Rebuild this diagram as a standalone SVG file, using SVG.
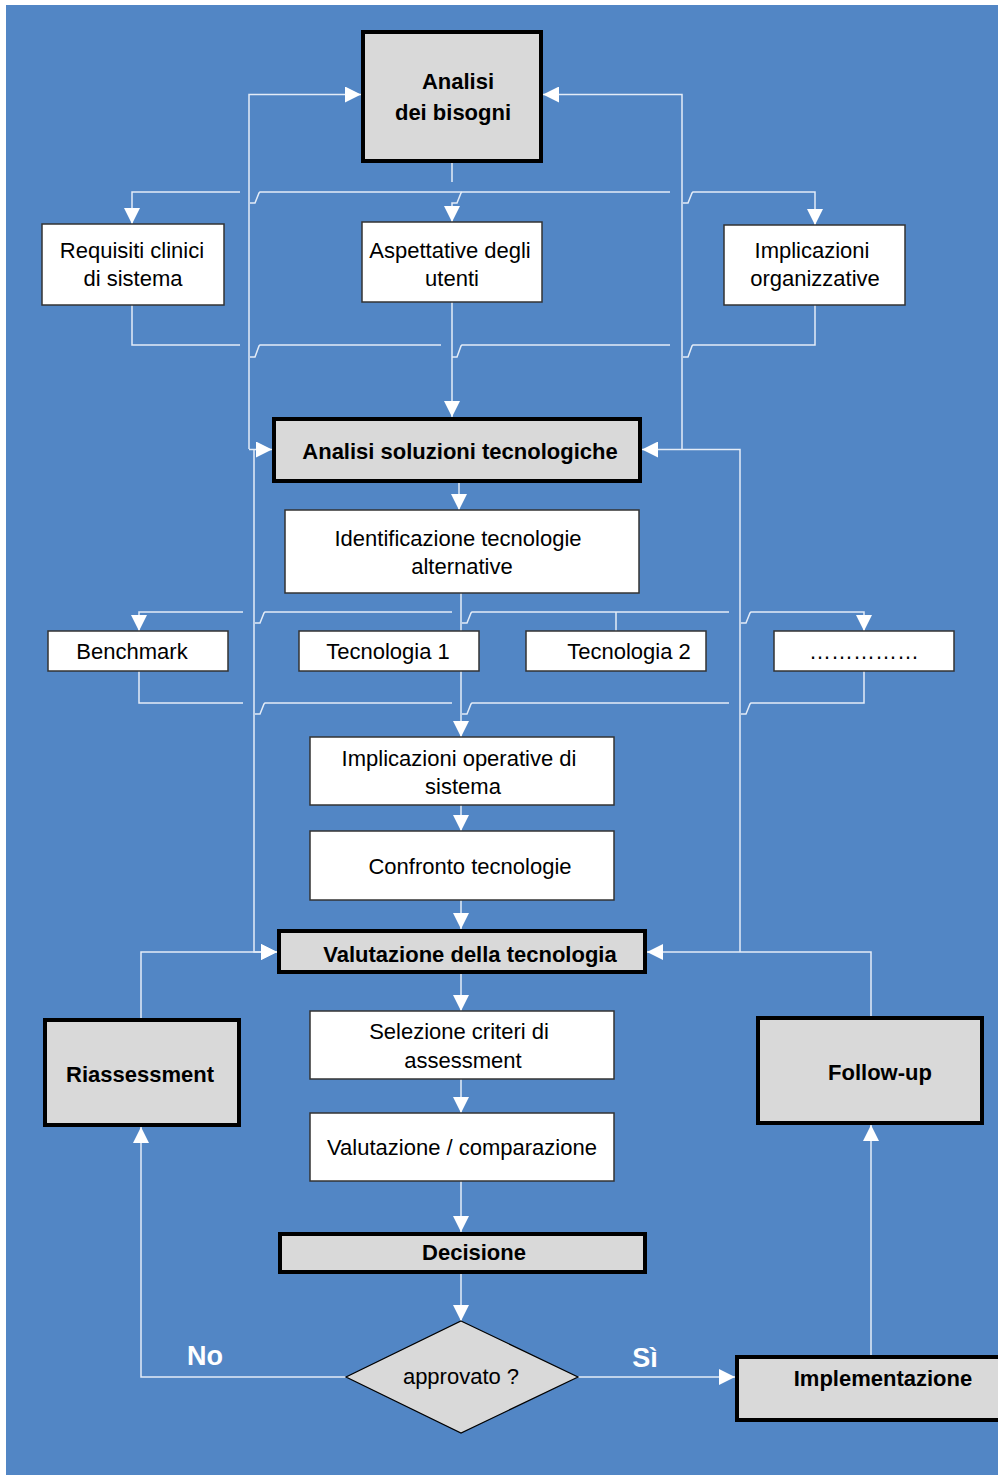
<svg xmlns="http://www.w3.org/2000/svg" width="998" height="1475" viewBox="0 0 998 1475">
<defs>
<marker id="ah" markerUnits="userSpaceOnUse" markerWidth="16" markerHeight="16" refX="16" refY="8" orient="auto">
<path d="M0,0 L16,8 L0,16 Z" fill="#FFFFFF"/>
</marker>
<style>
.bg{fill:#5286C5}
.box{fill:#FFFFFF;stroke:#333333;stroke-width:1.5}
.bbox{fill:#D9D9D9;stroke:#000000;stroke-width:4}
.t{font-family:"Liberation Sans",Arial,sans-serif;font-size:22px;fill:#000;text-anchor:middle}
.tb{font-family:"Liberation Sans",Arial,sans-serif;font-size:22px;font-weight:bold;fill:#000;text-anchor:middle}
.lbl{font-family:"Liberation Sans",Arial,sans-serif;font-size:27px;font-weight:bold;fill:#FFFFFF;text-anchor:middle}
.c{fill:none;stroke:#E4ECF7;stroke-width:1.5}
.a{marker-end:url(#ah)}
</style>
</defs>
<rect x="0" y="0" width="998" height="1475" fill="#FFFFFF"/>
<rect class="bg" x="6" y="5" width="992" height="1470"/>

<g id="connectors">
<!-- top loops -->
<path class="c a" d="M249,449 V94.5 H361"/>
<path class="c a" d="M682,449 V94.5 H543"/>
<path class="c a" d="M249,449.5 H272"/>
<path class="c a" d="M740,952 V449.5 H642"/>
<!-- row y=192 -->
<path class="c" d="M452,163 V182"/>
<path class="c a" d="M240,192 H132 V224"/>
<path class="c" d="M250,203 L255,203 L259,193 L260,192 H670"/>
<path class="c a" d="M462,192 L461,193 L457,203 L452,203 V222"/>
<path class="c a" d="M683,203 L688,203 L692,193 L693,192 H815 V225"/>
<!-- row y=345 -->
<path class="c" d="M132,305 V345 H240"/>
<path class="c" d="M250,357 L255,357 L259,346 L260,345 H441"/>
<path class="c" d="M452,357 L457,357 L461,346 L462,345 H670"/>
<path class="c" d="M683,357 L688,357 L692,346 L693,345 H815 V305"/>
<path class="c a" d="M452,302 V417"/>
<!-- analisi soluzioni down -->
<path class="c a" d="M459,483 V510"/>
<path class="c a" d="M461,593 V737"/>
<!-- row y=612 -->
<path class="c a" d="M243,612 H139 V631"/>
<path class="c" d="M255,623 L260,623 L264,613 L265,612 H452"/>
<path class="c" d="M462,623 L467,623 L471,613 L472,612 H729"/>
<path class="c" d="M616,612 V631"/>
<path class="c a" d="M741,623 L746,623 L750,613 L751,612 H864 V631"/>
<!-- row y=703 -->
<path class="c" d="M139,671 V703 H243"/>
<path class="c" d="M255,714 L260,714 L264,704 L265,703 H452"/>
<path class="c" d="M462,714 L467,714 L471,704 L472,703 H729"/>
<path class="c" d="M741,714 L746,714 L750,704 L751,703 H864 V671"/>
<!-- left long vertical -->
<path class="c a" d="M254,449.5 V952 H277"/>
<!-- central chain -->
<path class="c a" d="M461,805 V831"/>
<path class="c a" d="M461,900 V929"/>
<path class="c a" d="M461,974 V1011"/>
<path class="c a" d="M461,1079 V1113"/>
<path class="c a" d="M461,1181 V1232"/>
<path class="c a" d="M461,1274 V1321"/>
<!-- side loops -->
<path class="c a" d="M141,1018 V952 H277"/>
<path class="c a" d="M871,1016 V952 H647"/>
<path class="c a" d="M346,1377 H141 V1127"/>
<path class="c a" d="M578,1377 H735"/>
<path class="c a" d="M871,1355 V1125"/>
</g>

<g id="n-analisi-bisogni">
<rect class="bbox" x="363" y="32" width="178" height="129"/>
<text class="tb" x="458" y="89">Analisi</text>
<text class="tb" x="453" y="120">dei bisogni</text>
</g>
<g id="n-requisiti">
<rect class="box" x="42" y="224" width="182" height="81"/>
<text class="t" x="132" y="258">Requisiti clinici</text>
<text class="t" x="133" y="286">di sistema</text>
</g>
<g id="n-aspettative">
<rect class="box" x="362" y="222" width="180" height="80"/>
<text class="t" x="450" y="258">Aspettative degli</text>
<text class="t" x="452" y="286">utenti</text>
</g>
<g id="n-implicazioni-org">
<rect class="box" x="724" y="225" width="181" height="80"/>
<text class="t" x="812" y="258">Implicazioni</text>
<text class="t" x="815" y="286">organizzative</text>
</g>
<g id="n-analisi-soluzioni">
<rect class="bbox" x="274" y="419" width="366" height="62"/>
<text class="tb" x="460" y="459">Analisi soluzioni tecnologiche</text>
</g>
<g id="n-identificazione">
<rect class="box" x="285" y="510" width="354" height="83"/>
<text class="t" x="458" y="546">Identificazione tecnologie</text>
<text class="t" x="462" y="574">alternative</text>
</g>
<g id="n-benchmark">
<rect class="box" x="48" y="631" width="180" height="40"/>
<text class="t" x="132" y="659">Benchmark</text>
</g>
<g id="n-tecnologia1">
<rect class="box" x="299" y="631" width="180" height="40"/>
<text class="t" x="388" y="659">Tecnologia 1</text>
</g>
<g id="n-tecnologia2">
<rect class="box" x="526" y="631" width="180" height="40"/>
<text class="t" x="629" y="659">Tecnologia 2</text>
</g>
<g id="n-altro">
<rect class="box" x="774" y="631" width="180" height="40"/>
<text class="t" x="864" y="659">……………</text>
</g>
<g id="n-implicazioni-op">
<rect class="box" x="310" y="737" width="304" height="68"/>
<text class="t" x="459" y="766">Implicazioni operative di</text>
<text class="t" x="463" y="794">sistema</text>
</g>
<g id="n-confronto">
<rect class="box" x="310" y="831" width="304" height="69"/>
<text class="t" x="470" y="874">Confronto tecnologie</text>
</g>
<g id="n-valutazione">
<rect class="bbox" x="279" y="931" width="366" height="41"/>
<text class="tb" x="470" y="962">Valutazione della tecnologia</text>
</g>
<g id="n-riassessment">
<rect class="bbox" x="45" y="1020" width="194" height="105"/>
<text class="tb" x="140" y="1082">Riassessment</text>
</g>
<g id="n-followup">
<rect class="bbox" x="758" y="1018" width="224" height="105"/>
<text class="tb" x="880" y="1080">Follow-up</text>
</g>
<g id="n-selezione">
<rect class="box" x="310" y="1011" width="304" height="68"/>
<text class="t" x="459" y="1039">Selezione criteri di</text>
<text class="t" x="463" y="1068">assessment</text>
</g>
<g id="n-valcomp">
<rect class="box" x="310" y="1113" width="304" height="68"/>
<text class="t" x="462" y="1155">Valutazione / comparazione</text>
</g>
<g id="n-decisione">
<rect class="bbox" x="280" y="1234" width="365" height="38"/>
<text class="tb" x="474" y="1260">Decisione</text>
</g>
<g id="n-approvato">
<polygon points="461,1321 578,1377 461,1433 346,1377" fill="#D9D9D9" stroke="#000" stroke-width="1.2"/>
<text class="t" x="461" y="1384">approvato ?</text>
</g>
<g id="n-implementazione">
<rect class="bbox" x="737" y="1357" width="280" height="63"/>
<text class="tb" x="883" y="1386">Implementazione</text>
</g>
<g id="labels">
<text class="lbl" x="205" y="1365">No</text>
<text class="lbl" x="645" y="1367">Sì</text>
</g>
</svg>
